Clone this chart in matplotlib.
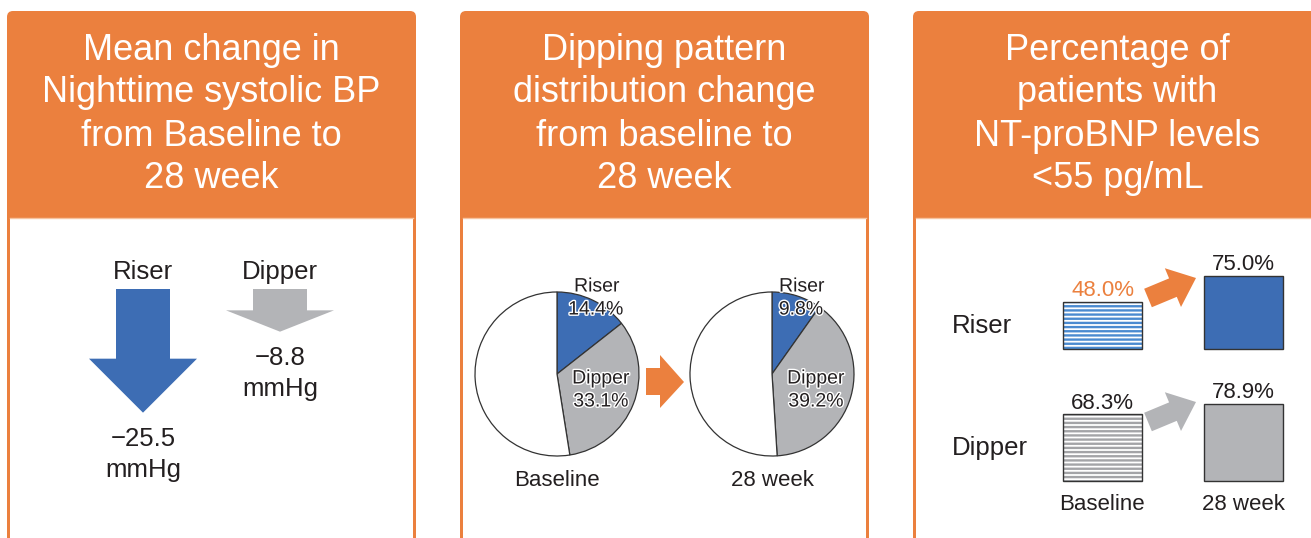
import numpy as np
import matplotlib
matplotlib.use("Agg")
import matplotlib.pyplot as plt
import matplotlib.patches as mpatches
import matplotlib.patheffects as pe

plt.rcParams["font.family"] = ["Liberation Sans", "DejaVu Sans"]
plt.rcParams["hatch.linewidth"] = 1.7

# ---- data
titles = [
    ["Mean change in", "Nighttime systolic BP", "from Baseline to", "28 week"],
    ["Dipping pattern", "distribution change", "from baseline to", "28 week"],
    ["Percentage of", "patients with", "NT-proBNP levels", "<55 pg/mL"],
]
groups = ["Riser", "Dipper"]
periods = ["Baseline", "28 week"]
bp_change = [-25.5, -8.8]            # mmHg, Riser / Dipper
riser_share = [14.4, 9.8]            # % of patients, Baseline / 28 week
dipper_share = [33.1, 39.2]
ntprobnp_riser = [48.0, 75.0]        # % with NT-proBNP < 55 pg/mL
ntprobnp_dipper = [68.3, 78.9]

ORANGE = "#EB803E"
BLUE = "#3D6DB4"
GRAY = "#B3B4B7"
DARK = "#231F20"

W, H = 1311, 538
fig = plt.figure(figsize=(W / 100, H / 100), dpi=100)


def px_axes(x0, y0, x1, y1, z=1):
    # axes placed by pixel box (y measured from the top)
    ax = fig.add_axes([x0 / W, 1 - y1 / H, (x1 - x0) / W, (y1 - y0) / H], zorder=z)
    ax.axis("off")
    return ax


bg = px_axes(0, 0, W, H, z=0)
bg.set_xlim(0, W)
bg.set_ylim(H, 0)
fg = px_axes(0, 0, W, H, z=10)
fg.set_xlim(0, W)
fg.set_ylim(H, 0)
fg.patch.set_alpha(0)

# ---- panel frames and headers
lefts = [7, 460, 913]
pw, top, head_bot, border = 409, 11, 217, 3
for left, lines in zip(lefts, titles):
    bg.add_patch(mpatches.FancyBboxPatch((left, top), pw, 600, boxstyle="round,pad=0,rounding_size=6",
                                         fc=ORANGE, ec="none"))
    bg.add_patch(mpatches.Rectangle((left + border, head_bot + 1), pw - 2 * border, 600,
                                    fc="white", ec="none"))
    bg.plot([left + border, left + pw - border], [head_bot + 0.5, head_bot + 0.5], color="#F6C3A0", lw=1)
    for i, s in enumerate(lines):
        fg.text(left + pw / 2, 50 + i * 43, s, color="white", fontsize=26, ha="center", va="center")

# ---- panel 1: arrows scaled by mmHg change
scale = 4.85  # px per mmHg
ax1 = px_axes(40, 289, 380, 289 + 32 * scale)
ax1.set_xlim(40, 380)
ax1.set_ylim(-32, 0)
for cx, val, col, name in zip([143, 280], bp_change, [BLUE, GRAY], groups):
    length = -val
    hl = min(54 / scale, length / 2)
    sw, hw = 27, 54
    xs = [cx - sw, cx + sw, cx + sw, cx + hw, cx, cx - hw, cx - sw]
    ys = [0, 0, -(length - hl), -(length - hl), -length, -(length - hl), -(length - hl)]
    ax1.fill(xs, ys, color=col, lw=0, clip_on=False)
    ax1.annotate(name, (cx, 0), xytext=(0, 17), textcoords="offset pixels",
                 ha="center", va="center", fontsize=18.5, color=DARK)
    ax1.annotate(f"\u2212{length:.1f}", (cx, val), xytext=(0, -26), textcoords="offset pixels",
                 ha="center", va="center", fontsize=18.5, color=DARK)
    ax1.annotate("mmHg", (cx, val), xytext=(0, -57), textcoords="offset pixels",
                 ha="center", va="center", fontsize=18.5, color=DARK)

# ---- panel 2: pies
r = 82
stroke = [pe.withStroke(linewidth=2, foreground="white")]
for cx, rs, ds, period in zip([557, 772], riser_share, dipper_share, periods):
    cy = 374
    ax = px_axes(cx - r, cy - r, cx + r, cy + r)
    wedges, _ = ax.pie([rs, ds, 100 - rs - ds], colors=[BLUE, GRAY, "white"], startangle=90,
                       counterclock=False, wedgeprops=dict(edgecolor="#333333", linewidth=0.9))
    for w in wedges:
        w.set_clip_on(False)
    ax.set_xlim(-1, 1)
    ax.set_ylim(-1, 1)
    dx = 40 if rs > 12 else 30
    fg.text(cx + dx, cy - 87, "Riser", fontsize=14, ha="center", va="center", color=DARK, path_effects=stroke)
    fg.text(cx + dx - 1, cy - 64, f"{rs:.1f}%", fontsize=14, ha="center", va="center", color=DARK,
            path_effects=stroke)
    fg.text(cx + 44, cy + 5, "Dipper", fontsize=14, ha="center", va="center", color=DARK, path_effects=stroke)
    fg.text(cx + 44, cy + 28, f"{ds:.1f}%", fontsize=14, ha="center", va="center", color=DARK,
            path_effects=stroke)
    fg.text(cx, 480, period, fontsize=16, ha="center", va="center", color=DARK)

fg.fill([646, 660, 660, 684, 660, 660, 646], [368, 368, 355, 382, 408, 395, 395], color=ORANGE, lw=0)

# ---- panel 3: bars scaled by percentage
rows = [(ntprobnp_riser, 349, BLUE, ORANGE, "#4A8AD0"), (ntprobnp_dipper, 481, GRAY, DARK, "#A3A4A7")]
for (vals, base, col, lab_col, stripe), name in zip(rows, groups):
    ax = px_axes(1032, base - 98, 1314, base)
    ax.set_xlim(-0.5, 1.5)
    ax.set_ylim(0, 100)
    ax.bar(0, vals[0], 0.56, color="white", edgecolor=stripe, hatch="----", linewidth=0, clip_on=False)
    ax.bar(0, vals[0], 0.56, fill=False, edgecolor="#333333", linewidth=1.0, clip_on=False)
    ax.bar(1, vals[1], 0.56, color=col, edgecolor="#333333", linewidth=1.0, clip_on=False)
    for x, v, c in zip([0, 1], vals, [lab_col, DARK]):
        ax.annotate(f"{v:.1f}%", (x, v), xytext=(0, 4), textcoords="offset points",
                    ha="center", va="baseline", fontsize=16, color=c, annotation_clip=False)
    fg.text(952, base - 23 if name == "Riser" else base - 33, name, fontsize=18.5,
            ha="left", va="center", color=DARK)

for y, col in [(298, ORANGE), (422, GRAY)]:
    fg.add_patch(mpatches.FancyArrow(1148, y, 48, -20, width=20, head_width=42, head_length=25,
                                     length_includes_head=True, fc=col, ec="none"))

for x, period in zip([1102, 1243], periods):
    fg.text(x, 505, period, fontsize=16, ha="center", va="center", color=DARK)

fig.savefig("out.png", dpi=100)
